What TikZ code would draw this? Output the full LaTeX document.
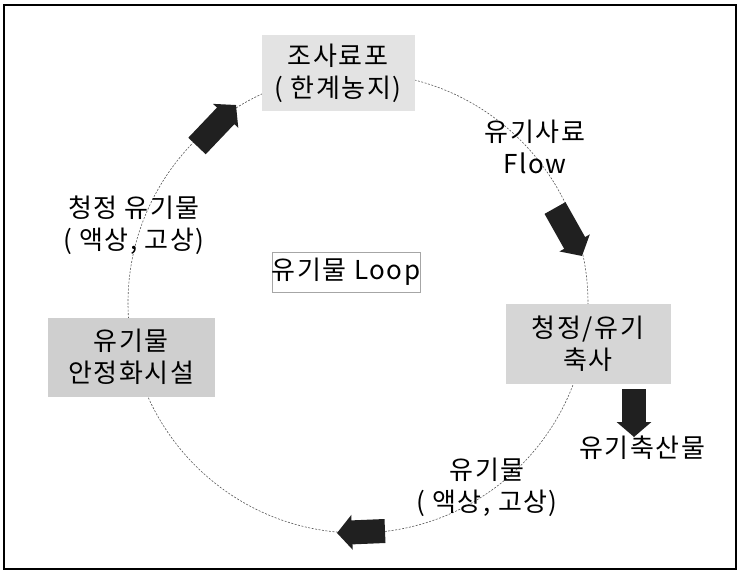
\documentclass[tikz,border=0pt]{standalone}
\usepackage{fontspec}
\setmainfont{Noto Sans CJK KR}[LetterSpace=6]
\usetikzlibrary{arrows.meta}
\tikzset{
  krtext/.style={font=\fontsize{26}{32}\selectfont, align=center, inner sep=0pt},
  graybox/.style={krtext, fill=gray!30, inner sep=0pt},
  loopline/.style={gray!70!black, line width=0.6pt, dash pattern=on 2pt off 1.5pt},
  blockarrow/.style={draw=gray!25!black, line width=24pt,
    -{Triangle[width=34pt,length=15pt]}},
}
\begin{document}
\begin{tikzpicture}[x=1pt,y=-1pt]
\useasboundingbox (0,0) rectangle (740,573);
\draw[line width=1.3pt] (4,5) rectangle (736,569);
% loop
\coordinate (c) at (358,303);
\draw[loopline] (c) circle[radius=230];
% boxes
\node[graybox, fill=gray!22, minimum width=153, minimum height=76] (feed) at (338,73) {조사료포\\( 한계농지)};
\node[graybox, fill=gray!32, minimum width=165, minimum height=80] (farm) at (588,344) {청정/유기\\축사};
\node[graybox, fill=gray!38, minimum width=167, minimum height=79] (stab) at (131,357) {유기물\\안정화시설};
\node[krtext, draw=gray!70, line width=0.6pt, fill=white, minimum width=137, minimum height=40] (loop) at (346,272) {유기물 Loop};
% labels
\node[krtext] (flow) at (535,147) {유기사료\\Flow};
\node[krtext] (clean) at (134,225) {청정 유기물\\( 액상, 고상)};
\node[krtext] (prod) at (642,448) {유기축산물};
\node[krtext] (orgm) at (487,487) {유기물\\( 액상, 고상)};
% block arrows
\coordinate (a1s) at (197,146); \coordinate (a1e) at (236,105);
\coordinate (a2s) at (555,208); \coordinate (a2e) at (582,256);
\coordinate (a3s) at (634,389); \coordinate (a3e) at (634,437);
\coordinate (a4s) at (385,531); \coordinate (a4e) at (337,533);
\draw[blockarrow] (a1s) -- (a1e);
\draw[blockarrow] (a2s) -- (a2e);
\draw[blockarrow] (a3s) -- (a3e);
\draw[blockarrow] (a4s) -- (a4e);
\end{tikzpicture}
\end{document}
